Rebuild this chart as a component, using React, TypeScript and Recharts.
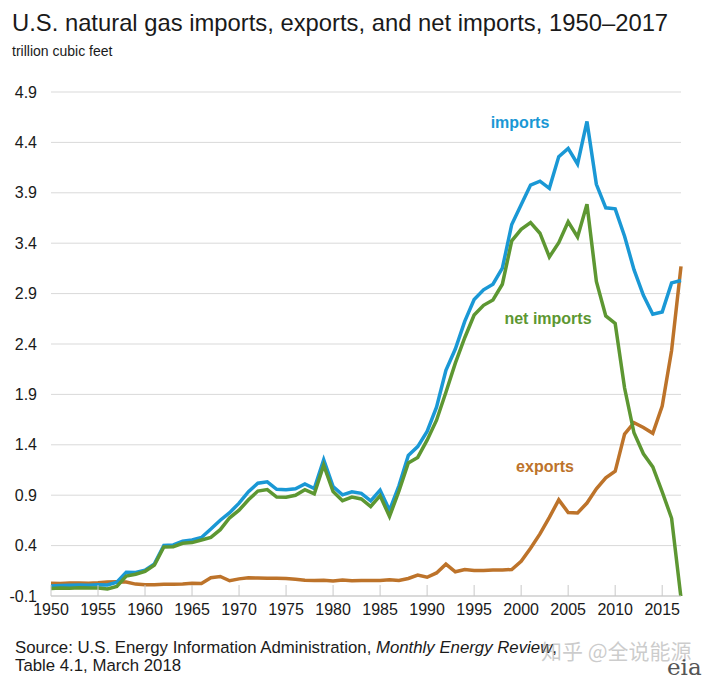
import { LineChart, Line, XAxis, YAxis, CartesianGrid } from 'recharts';

const years = [
    1950, 1951, 1952, 1953, 1954, 1955, 1956, 1957, 1958, 1959,
    1960, 1961, 1962, 1963, 1964, 1965, 1966, 1967, 1968, 1969,
    1970, 1971, 1972, 1973, 1974, 1975, 1976, 1977, 1978, 1979,
    1980, 1981, 1982, 1983, 1984, 1985, 1986, 1987, 1988, 1989,
    1990, 1991, 1992, 1993, 1994, 1995, 1996, 1997, 1998, 1999,
    2000, 2001, 2002, 2003, 2004, 2005, 2006, 2007, 2008, 2009,
    2010, 2011, 2012, 2013, 2014, 2015, 2016, 2017,
];

const imports = [
    0.0, 0.003, 0.007, 0.009, 0.006, 0.011, 0.01, 0.037, 0.136, 0.134,
    0.156, 0.219, 0.402, 0.406, 0.443, 0.456, 0.48, 0.564, 0.652, 0.727,
    0.821, 0.935, 1.019, 1.033, 0.959, 0.953, 0.964, 1.011, 0.966, 1.253,
    0.985, 0.904, 0.933, 0.918, 0.843, 0.95, 0.75, 0.993, 1.294, 1.382,
    1.532, 1.773, 2.138, 2.35, 2.624, 2.841, 2.937, 2.994, 3.152, 3.586,
    3.782, 3.977, 4.015, 3.944, 4.259, 4.341, 4.186, 4.608, 3.984, 3.751,
    3.741, 3.469, 3.138, 2.883, 2.695, 2.718, 3.006, 3.03,
];

const exports = [
    0.026, 0.024, 0.029, 0.028, 0.027, 0.031, 0.04, 0.042, 0.039, 0.018,
    0.011, 0.011, 0.016, 0.017, 0.02, 0.026, 0.025, 0.082, 0.094, 0.051,
    0.07, 0.08, 0.078, 0.077, 0.077, 0.073, 0.065, 0.056, 0.053, 0.056,
    0.049, 0.059, 0.052, 0.055, 0.055, 0.055, 0.061, 0.054, 0.074, 0.107,
    0.086, 0.129, 0.216, 0.14, 0.162, 0.154, 0.153, 0.157, 0.159, 0.163,
    0.244, 0.373, 0.516, 0.68, 0.854, 0.729, 0.724, 0.822, 0.963, 1.072,
    1.137, 1.506, 1.619, 1.572, 1.514, 1.784, 2.335, 3.17,
];

const netImports = [
    -0.026, -0.021, -0.022, -0.019, -0.021, -0.02, -0.03, -0.005, 0.097, 0.116,
    0.145, 0.208, 0.386, 0.389, 0.423, 0.43, 0.455, 0.482, 0.558, 0.676,
    0.751, 0.855, 0.941, 0.956, 0.882, 0.88, 0.899, 0.955, 0.913, 1.197,
    0.936, 0.845, 0.881, 0.863, 0.788, 0.895, 0.689, 0.939, 1.22, 1.275,
    1.446, 1.644, 1.922, 2.21, 2.462, 2.687, 2.784, 2.837, 2.993, 3.423,
    3.538, 3.604, 3.499, 3.264, 3.405, 3.612, 3.462, 3.786, 3.021, 2.679,
    2.604, 1.963, 1.519, 1.311, 1.181, 0.934, 0.671, -0.12,
];

const xTicks = [1950, 1955, 1960, 1965, 1970, 1975, 1980, 1985, 1990, 1995, 2000, 2005, 2010, 2015];
const yTicks = [-0.1, 0.4, 0.9, 1.4, 1.9, 2.4, 2.9, 3.4, 3.9, 4.4, 4.9];

const data = years.map((year, i) => ({
    year,
    imports: imports[i],
    exports: exports[i],
    net: netImports[i],
}));

const FONT = '"Liberation Sans", Arial, sans-serif';
const BLUE = '#1a98d5';
const GREEN = '#5d9732';
const BROWN = '#bd732a';

function YearTick(props: any) {
    const { x, y, payload } = props;
    return (
        <g>
            <line x1={x} x2={x} y1={y - 11} y2={y} stroke="#c8c8c8" />
            <text x={x} y={y + 19} textAnchor="middle" fontSize={16} fill="#1a1a1a" fontFamily={FONT}>
                {payload.value}
            </text>
        </g>
    );
}

export default function App() {
    return (
        <div style={{ position: 'absolute', left: 0, top: 0, width: 715, height: 680, background: '#fff', fontFamily: FONT }}>
            <LineChart width={715} height={680} data={data} margin={{ top: 92, right: 34, bottom: 54, left: 0 }}>
                <CartesianGrid vertical={false} stroke="#d9d9d9" />
                <XAxis
                    dataKey="year"
                    type="number"
                    domain={[1950, 2017]}
                    ticks={xTicks}
                    height={30}
                    tickSize={0}
                    tickMargin={0}
                    tickLine={false}
                    axisLine={{ stroke: '#c8c8c8' }}
                    tick={<YearTick />}
                />
                <YAxis
                    domain={[-0.1, 4.9]}
                    ticks={yTicks}
                    width={51}
                    allowDataOverflow
                    axisLine={false}
                    tickLine={false}
                    tickSize={0}
                    tickMargin={14}
                    tickFormatter={(v: number) => v.toFixed(1)}
                    tick={{ fontSize: 16, fill: '#1a1a1a', fontFamily: FONT }}
                />
                <Line type="linear" dataKey="exports" stroke={BROWN} strokeWidth={3.5} dot={false} isAnimationActive={false} />
                <Line type="linear" dataKey="imports" stroke={BLUE} strokeWidth={3.5} dot={false} isAnimationActive={false} />
                <Line type="linear" dataKey="net" stroke={GREEN} strokeWidth={3.5} dot={false} isAnimationActive={false} />
            </LineChart>
            <svg width={715} height={680} style={{ position: 'absolute', left: 0, top: 0, pointerEvents: 'none' }}>
                <text x={12} y={31} fontSize={23.8} fill="#1a1a1a" fontFamily={FONT}>
                    U.S. natural gas imports, exports, and net imports, 1950–2017
                </text>
                <text x={12} y={56} fontSize={14} fill="#1a1a1a" fontFamily={FONT}>trillion cubic feet</text>
                <text x={520} y={128} fontSize={16} fontWeight="bold" fill={BLUE} textAnchor="middle" fontFamily={FONT}>imports</text>
                <text x={548} y={324} fontSize={16} fontWeight="bold" fill={GREEN} textAnchor="middle" fontFamily={FONT}>net imports</text>
                <text x={545} y={472} fontSize={16} fontWeight="bold" fill={BROWN} textAnchor="middle" fontFamily={FONT}>exports</text>
                <text x={15} y={653} fontSize={16.8} fill="#1a1a1a" fontFamily={FONT}>
                    Source: U.S. Energy Information Administration, <tspan fontStyle="italic">Monthly Energy Review</tspan>,
                </text>
                <text x={15} y={671} fontSize={16.8} fill="#1a1a1a" fontFamily={FONT}>Table 4.1, March 2018</text>
                <text x={541} y={659} fontSize={21} fill="#9a9a9a" fillOpacity={0.5} fontFamily='"Noto Sans CJK SC", sans-serif'>
                    知乎 @全说能源
                </text>
                <text x={667} y={675} fontSize={23} fill="#555" fontFamily='"DejaVu Serif", serif'>eia</text>
            </svg>
        </div>
    );
}
